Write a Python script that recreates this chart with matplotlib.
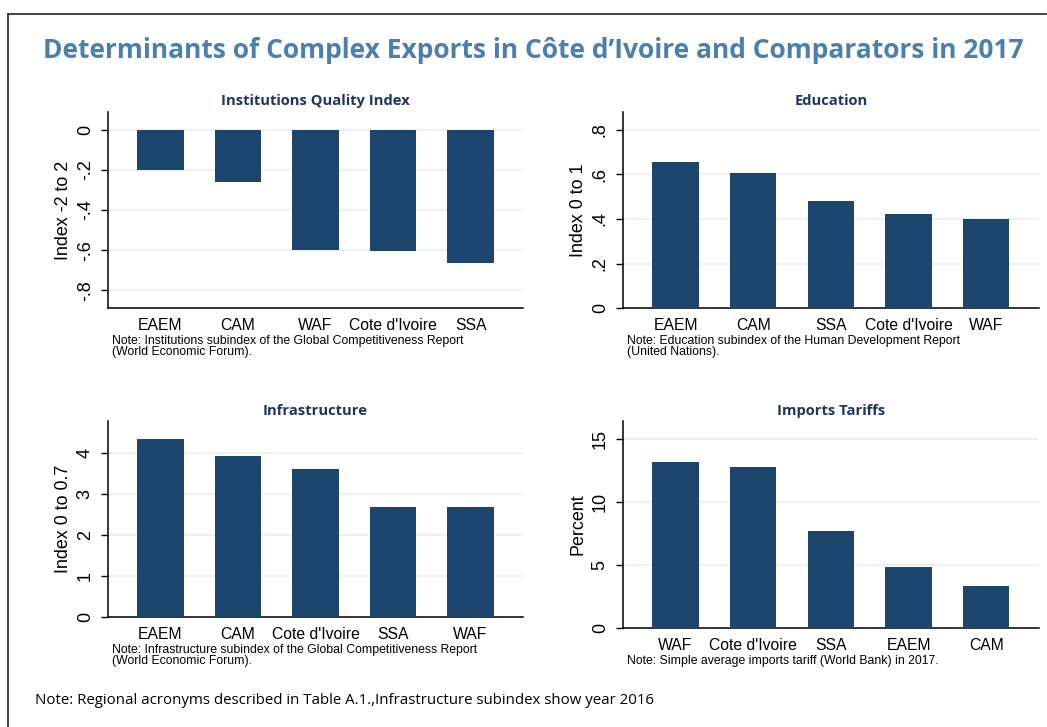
import matplotlib
matplotlib.use("Agg")
import matplotlib.pyplot as plt
from matplotlib.ticker import FuncFormatter
from matplotlib.lines import Line2D

# data
inst_labels = ["EAEM", "CAM", "WAF", "Cote d'Ivoire", "SSA"]
inst_values = [-0.20, -0.26, -0.60, -0.605, -0.662]

edu_labels = ["EAEM", "CAM", "SSA", "Cote d'Ivoire", "WAF"]
edu_values = [0.656, 0.607, 0.481, 0.424, 0.398]

infra_labels = ["EAEM", "CAM", "Cote d'Ivoire", "SSA", "WAF"]
infra_values = [4.35, 3.93, 3.62, 2.69, 2.69]

tariff_labels = ["WAF", "Cote d'Ivoire", "SSA", "EAEM", "CAM"]
tariff_values = [13.2, 12.83, 7.75, 4.89, 3.36]

BAR = "#1c466e"
GRID = "#e6efef"
TITLE_NAVY = "#1f3560"
MAIN_BLUE = "#4a7fae"

W, H = 1047, 727
fig = plt.figure(figsize=(W / 100, H / 100), dpi=100)
fig.patch.set_facecolor("white")

# partial frame (top and left lines)
fig.add_artist(Line2D([8 / W, 1046 / W], [1 - 14 / H, 1 - 14 / H], color="#333333", lw=1.3))
fig.add_artist(Line2D([8 / W, 8 / W], [1 - 14 / H, 0], color="#333333", lw=1.3))

fig.text(533.5 / W, 1 - 50 / H,
         "Determinants of Complex Exports in Côte d\u2019Ivoire and Comparators in 2017",
         ha="center", va="center", fontsize=19, fontweight="bold",
         color=MAIN_BLUE, family="Open Sans")


def stata_fmt(v, pos):
    if abs(v) < 1e-9:
        return "0"
    s = "%g" % v
    s = s.replace("0.", ".")
    return s


def panel(box, labels, values, ylim, yticks, title, ylabel):
    x0, x1, y0, y1 = box
    ax = fig.add_axes([x0 / W, 1 - y1 / H, (x1 - x0) / W, (y1 - y0) / H])
    xs = range(len(labels))
    ax.bar(xs, values, width=0.6, color=BAR, zorder=3)
    ax.set_xlim(-0.68, len(labels) - 1 + 0.68)
    ax.set_ylim(*ylim)
    ax.set_yticks(yticks)
    ax.yaxis.set_major_formatter(FuncFormatter(stata_fmt))
    ax.set_xticks(list(xs))
    ax.set_xticklabels(labels, family="Liberation Sans", fontsize=11.3)
    for t in ax.get_yticklabels():
        t.set_rotation(90)
        t.set_va("center")
        t.set_family("Liberation Sans")
        t.set_fontsize(13)
    ax.tick_params(axis="x", length=0, pad=7)
    ax.tick_params(axis="y", length=5, width=1, pad=5, direction="out")
    ax.grid(axis="y", color=GRID, lw=1.2, zorder=0)
    for s in ["top", "right"]:
        ax.spines[s].set_visible(False)
    for s in ["left", "bottom"]:
        ax.spines[s].set_linewidth(1.1)
    ax.set_ylabel(ylabel, family="Liberation Sans", fontsize=12.9)
    ax.yaxis.set_label_coords(-0.086, 0.5)
    ax.set_title(title, fontsize=10.6, fontweight="bold", color=TITLE_NAVY,
                 family="Open Sans", pad=4.5)
    return ax


def note(x, y, text):
    fig.text(x / W, 1 - y / H, text, ha="left", va="top", fontsize=8.8,
             family="Liberation Sans", linespacing=0.85)


panel((107.7, 523.3, 111.7, 308.3), inst_labels, inst_values, (-0.89, 0.09),
      [0, -0.2, -0.4, -0.6, -0.8], "Institutions Quality Index", "Index -2 to 2")
note(111.7, 335, "Note: Institutions subindex of the Global Competitiveness Report\n(World Economic Forum).")

panel((622.7, 1039, 111.7, 308.3), edu_labels, edu_values, (0, 0.88),
      [0, 0.2, 0.4, 0.6, 0.8], "Education", "Index 0 to 1")
note(627, 335, "Note: Education subindex of the Human Development Report\n(United Nations).")

panel((107.7, 523.3, 421, 617.3), infra_labels, infra_values, (0, 4.79),
      [0, 1, 2, 3, 4], "Infrastructure", "Index 0 to 0.7")
note(111.7, 644, "Note: Infrastructure subindex of the Global Competitiveness Report\n(World Economic Forum).")

panel((622.7, 1039, 421, 628.3), tariff_labels, tariff_values, (0, 16.45),
      [0, 5, 10, 15], "Imports Tariffs", "Percent")
note(627.3, 655, "Note: Simple average imports tariff (World Bank) in 2017.")

fig.text(35 / W, 1 - 701 / H,
         "Note: Regional acronyms described in Table A.1.,Infrastructure subindex show year 2016",
         ha="left", va="center", fontsize=10.8, family="Open Sans")

fig.savefig("out.png", dpi=100)
